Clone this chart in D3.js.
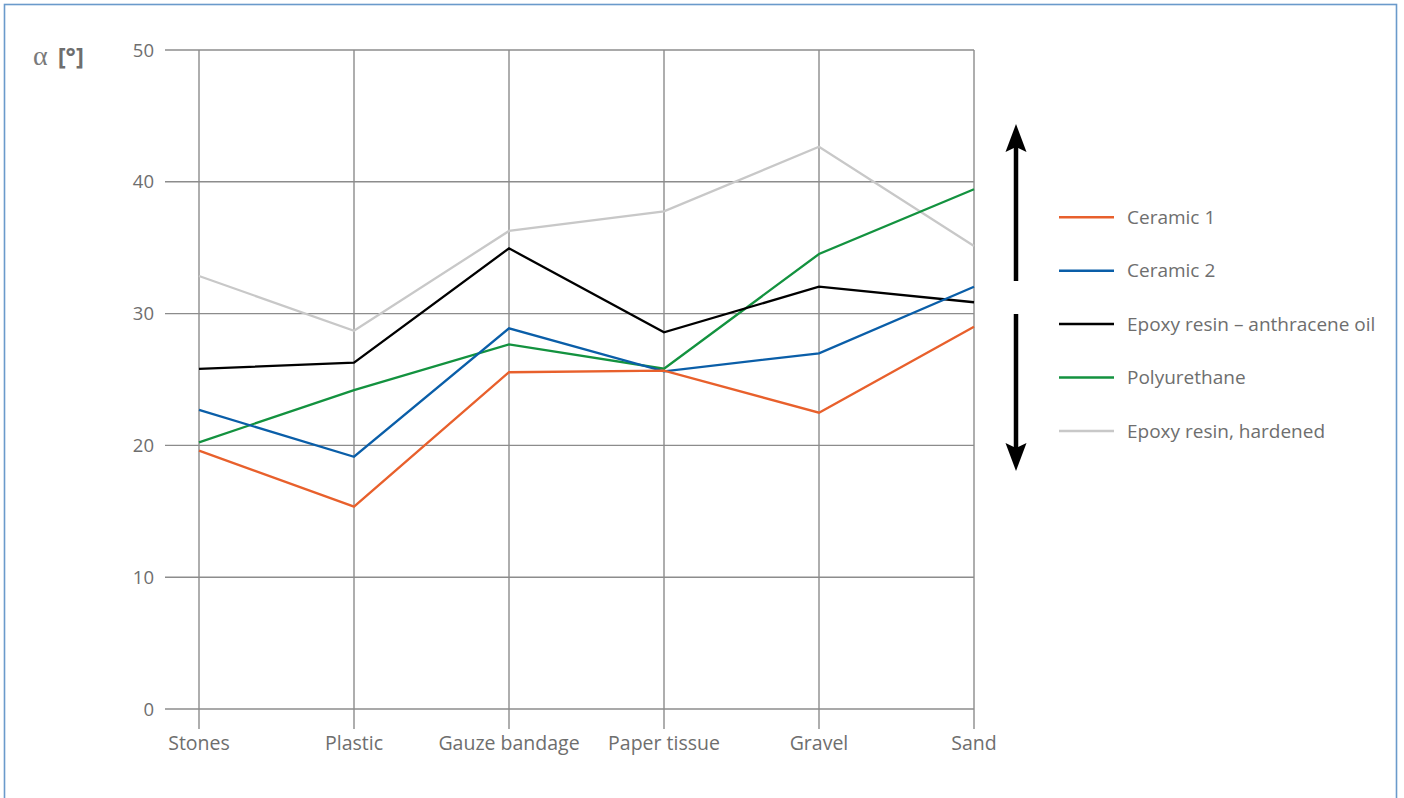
<!DOCTYPE html>
<html><head><meta charset="utf-8">
<script src="https://cdn.jsdelivr.net/npm/d3@7"></script>
<style>
html,body{margin:0;padding:0;background:#fff;}
svg{display:block;}
text{font-family:"Open Sans","Noto Sans",sans-serif;fill:#6e6e6e;}
</style></head>
<body>
<svg id="c" width="1404" height="798"></svg>
<script>
const categories = ["Stones","Plastic","Gauze bandage","Paper tissue","Gravel","Sand"];
const yTicks = [0,10,20,30,40,50];
const seriesNames = ["Ceramic 1","Ceramic 2","Epoxy resin – anthracene oil","Polyurethane","Epoxy resin, hardened"];
const seriesColors = ["#e8602c","#0a5ea8","#000000","#13923f","#c8c8c8"];
const ceramic1 = [19.6,15.35,25.55,25.67,22.48,29.0];
const ceramic2 = [22.69,19.14,28.88,25.62,26.99,32.04];
const epoxyAnthracene = [25.8,26.28,34.95,28.58,32.04,30.86];
const polyurethane = [20.23,24.2,27.67,25.82,34.52,39.43];
const epoxyHardened = [32.85,28.7,36.27,37.76,42.66,35.13];
const seriesValues = [ceramic1,ceramic2,epoxyAnthracene,polyurethane,epoxyHardened];

const svg = d3.select("#c");
// frame
svg.append("rect").attr("x",4.5).attr("y",4.5).attr("width",1392).attr("height",820)
  .attr("fill","none").attr("stroke","#6a9acb").attr("stroke-width",1.6);

const x = d3.scalePoint().domain(categories).range([199,974]);
const y = d3.scaleLinear().domain([0,50]).range([709,50]);
const grid = "#8c8c8c";

// horizontal grid
svg.append("g").selectAll("line").data(yTicks).join("line")
  .attr("x1",165).attr("x2",974).attr("y1",d=>y(d)).attr("y2",d=>y(d))
  .attr("stroke",grid).attr("stroke-width",1.4);
// vertical grid
svg.append("g").selectAll("line").data(categories).join("line")
  .attr("x1",d=>x(d)).attr("x2",d=>x(d)).attr("y1",y(50)).attr("y2",729)
  .attr("stroke",grid).attr("stroke-width",1.4);

// y tick labels
svg.append("g").selectAll("text").data(yTicks).join("text")
  .attr("x",154).attr("y",d=>y(d)).attr("dy","0.36em").attr("text-anchor","end")
  .attr("font-size",18.5).text(d=>d);
// x labels
svg.append("g").selectAll("text").data(categories).join("text")
  .attr("x",d=>x(d)).attr("y",750).attr("text-anchor","middle")
  .attr("font-size",19.5).text(d=>d);

// axis title
const t = svg.append("text").attr("x",33).attr("y",65).attr("font-size",24);
t.append("tspan").attr("font-family","'Liberation Serif','DejaVu Serif',serif").attr("font-size",28).style("fill","#7a7a7a").text("α");
t.append("tspan").attr("dx",10).attr("font-weight","bold").text("[°]");

// lines
const line = d3.line().x((d,i)=>x(categories[i])).y(d=>y(d));
svg.append("g").selectAll("path").data(seriesValues.map((v,i)=>({v,i})).reverse()).join("path")
  .attr("d",d=>line(d.v)).attr("fill","none").attr("stroke",d=>seriesColors[d.i])
  .attr("stroke-width",2.3).attr("stroke-linejoin","miter");

// legend
const lg = svg.append("g").selectAll("g").data(seriesNames).join("g")
  .attr("transform",(d,i)=>`translate(1059,${217.3+i*53.4})`);
lg.append("line").attr("x1",0).attr("x2",55).attr("stroke",(d,i)=>seriesColors[i]).attr("stroke-width",2.5);
lg.append("text").attr("x",68).attr("dy","0.35em").attr("font-size",19).text(d=>d);

// arrows
const ax = 1016;
function arrow(tipY, endY){
  const dir = tipY < endY ? 1 : -1;
  const headLen = 28, headW = 10.5, notch = 5;
  svg.append("line").attr("x1",ax).attr("x2",ax).attr("y1",tipY+dir*20).attr("y2",endY)
    .attr("stroke","#000").attr("stroke-width",4.5);
  const p = d3.path();
  p.moveTo(ax,tipY);
  p.lineTo(ax+headW,tipY+dir*headLen);
  p.lineTo(ax,tipY+dir*(headLen-notch));
  p.lineTo(ax-headW,tipY+dir*headLen);
  p.closePath();
  svg.append("path").attr("d",p.toString()).attr("fill","#000");
}
arrow(124,281);
arrow(471,314);
</script>
</body></html>
